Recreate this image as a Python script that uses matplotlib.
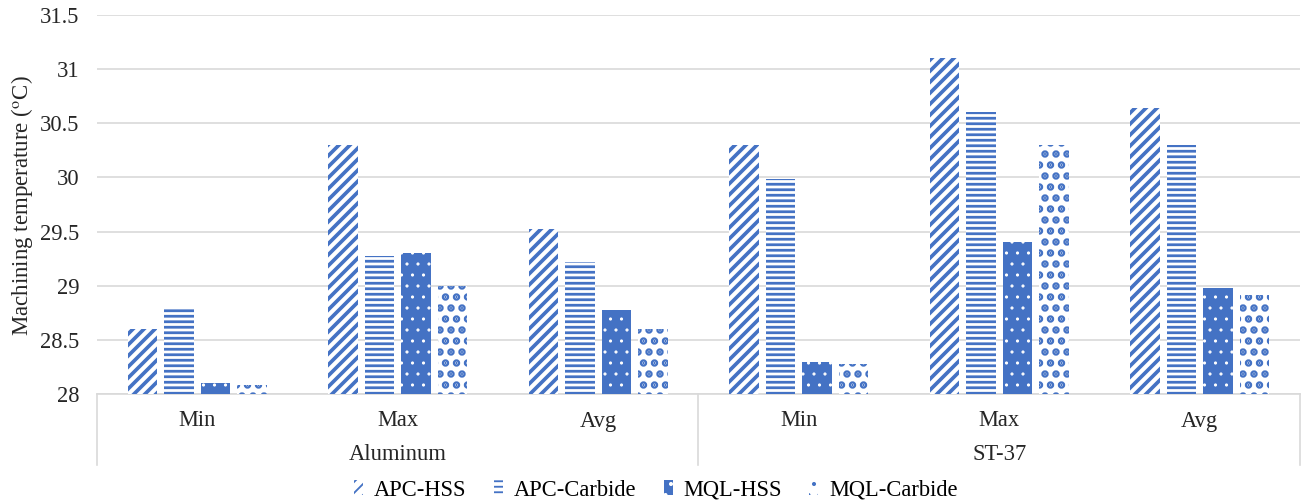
import matplotlib
matplotlib.use("Agg")
import matplotlib.pyplot as plt
import numpy as np
from matplotlib.patches import Patch

plt.rcParams['font.family'] = ['Liberation Serif', 'DejaVu Serif']
plt.rcParams['mathtext.fontset'] = 'stix'

categories = ["Min", "Max", "Avg", "Min", "Max", "Avg"]
groups = ["Aluminum", "ST-37"]
series = ["APC-HSS", "APC-Carbide", "MQL-HSS", "MQL-Carbide"]
apc_hss = [28.6, 30.3, 29.52, 30.3, 31.1, 30.64]
apc_carbide = [28.8, 29.27, 29.22, 29.99, 30.6, 30.3]
mql_hss = [28.1, 29.3, 28.78, 28.3, 29.4, 28.98]
mql_carbide = [28.08, 29.0, 28.6, 28.28, 30.3, 28.91]
yticks = [28, 28.5, 29, 29.5, 30, 30.5, 31, 31.5]

DPI = 132
blue = '#4472C4'
fig = plt.figure(figsize=(1304/DPI, 502/DPI), dpi=DPI)
ax = fig.add_axes([97/1304, 1-394/502, 1203/1304, 379/502])

x = np.arange(len(categories))
w = 0.145
step = 0.182
offs = (np.arange(4) - 1.5) * step
styles = [
    dict(facecolor='white', edgecolor=blue, hatch='////', linewidth=0),
    dict(facecolor='white', edgecolor=blue, hatch='----', linewidth=0),
    dict(facecolor=blue, edgecolor='white', hatch='..', linewidth=0),
    dict(facecolor='white', edgecolor=blue, hatch='..', linewidth=0),
]
hatch_lw = [2.0, 1.5, 0.5, 2.8]
data = [apc_hss, apc_carbide, mql_hss, mql_carbide]
for i, (vals, st) in enumerate(zip(data, styles)):
    v = np.array(vals)
    with plt.rc_context({'hatch.linewidth': hatch_lw[i]}):
        ax.bar(x + offs[i], v - 28, bottom=28, width=w, zorder=3, **st)

fs = 12.3
ax.set_ylim(28, 31.5)
ax.set_xlim(-0.5, 5.5)
ax.set_yticks(yticks)
ax.set_yticklabels([f"{t:g}" for t in yticks], fontsize=fs, color='#262626')
ax.yaxis.grid(True, color='#d9d9d9', linewidth=0.9, zorder=0)
ax.set_axisbelow(True)
for s in ['top', 'right', 'left']:
    ax.spines[s].set_visible(False)
ax.spines['bottom'].set_color('#d9d9d9')
ax.spines['bottom'].set_linewidth(0.9)
ax.tick_params(axis='y', length=0, pad=9.5)
ax.set_xticks(x)
ax.set_xticklabels(categories, fontsize=fs, color='#262626')
ax.tick_params(axis='x', length=0, pad=9)

trans = ax.get_xaxis_transform()
for xs in [-0.5, 2.5, 5.5]:
    ax.plot([xs, xs], [0, -71/379], transform=trans, color='#d9d9d9', lw=0.9, clip_on=False)
for gi, g in enumerate(groups):
    ax.text(gi*3 + 1, -61/379, g, transform=trans, ha='center', va='center', fontsize=fs, color='#262626')

fig.text(22/1304, 1-206/502, r"Machining temperature ($^{\mathrm{o}}$C)", rotation=90,
         ha='center', va='center', fontsize=12.5, color='#262626')

handles = []
for st, lw in zip(styles, hatch_lw):
    with plt.rc_context({'hatch.linewidth': lw}):
        handles.append(Patch(**st))
fig.legend(handles, series, loc='center', bbox_to_anchor=(656/1304, 1-490/502), ncol=4,
           frameon=False, fontsize=fs, handlelength=0.4, handleheight=0.6,
           columnspacing=1.2, handletextpad=0.5)

fig.savefig('out.png', dpi=DPI)
